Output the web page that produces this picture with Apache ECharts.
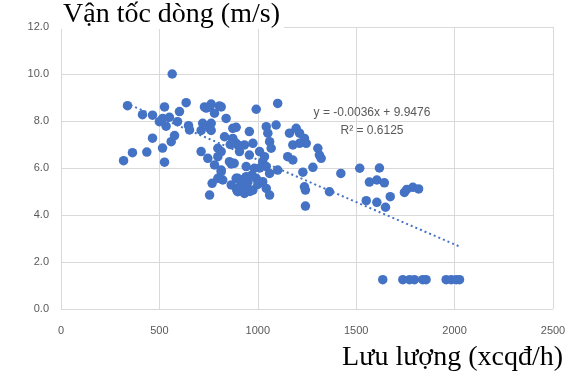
<!DOCTYPE html>
<html>
<head>
<meta charset="utf-8">
<script src="https://cdn.jsdelivr.net/npm/echarts@6/dist/echarts.min.js"></script>
<style>
  html, body { margin: 0; padding: 0; background: #fff; }
</style>
</head>
<body>
<div id="main" style="width: 578px; height: 374px;"></div>
<script>
// lưu lượng (xcqđ/h)
const flow = [
  318, 363, 338, 414, 436, 465, 465, 500, 517, 516, 526, 526, 534, 551, 560, 565, 577, 592, 602, 636,
  648, 653, 712, 712, 720, 729, 738, 746, 755, 755, 763, 763, 763, 768, 755, 780, 780, 797, 797, 797,
  805, 814, 814, 814, 814, 822, 831, 839, 856, 865, 865, 873, 873, 873, 890, 890, 890, 893, 898, 898,
  898, 907, 907, 932, 932, 941, 941, 941, 957, 957, 975, 975, 983, 992, 992, 1009, 1025, 1025, 1034, 1043,
  1043, 1043, 1051, 1060, 1060, 1060, 1068, 1093, 1101, 1101, 1152, 1161, 1178, 1178, 1195, 1212, 1212, 1229, 1237, 1237,
  1242, 1242, 1246, 1280, 1305, 1313, 1322, 1364, 1422, 1518, 1567, 1605, 1618, 1643, 1551, 1605, 1649, 1673, 1745, 1757,
  1788, 1817, 920, 950, 960, 1000, 970, 1010, 880, 860,
  1635, 1737, 1771, 1796, 1838, 1855, 1957, 1983, 2008, 2025
];
// vận tốc dòng (m/s)
const speed = [
  6.31, 6.65, 8.65, 8.27, 6.68, 7.27, 8.25, 7.97, 8.11, 6.85, 6.25, 8.6, 7.78, 8.16, 7.12, 10.0, 7.38, 7.97, 8.4, 8.78,
  7.8, 7.62, 6.7, 7.6, 7.9, 8.6, 8.55, 6.41, 8.6, 7.7, 8.72, 7.9, 7.6, 5.35, 4.85, 8.33, 6.13, 6.84, 6.48, 5.56,
  8.64, 8.6, 5.84, 6.7, 5.91, 5.49, 7.33, 8.11, 6.27, 6.17, 5.28, 7.69, 7.26, 7.19, 7.73, 7.05, 5.56, 5.06, 6.98, 5.56,
  4.99, 6.7, 5.2, 6.98, 4.92, 6.06, 5.63, 5.2, 7.55, 6.55, 7.05, 5.06, 5.99, 8.5, 5.56, 6.7, 6.27, 5.42, 6.48, 7.76,
  6.06, 5.13, 7.48, 7.12, 5.77, 4.85, 6.84, 7.83, 8.75, 5.91, 6.48, 7.48, 6.98, 6.34, 7.69, 7.05, 7.48, 5.82, 7.26, 5.2,
  5.06, 4.38, 7.05, 6.03, 6.84, 6.55, 6.41, 4.99, 5.77, 5.99, 5.4, 5.49, 6.0, 5.37, 4.61, 4.54, 4.33, 4.78, 4.96, 5.09,
  5.18, 5.11, 5.5, 5.4, 5.0, 5.3, 5.7, 6.0, 6.2, 7.0,
  1.25, 1.25, 1.25, 1.25, 1.25, 1.25, 1.25, 1.25, 1.25, 1.25
];
// đường xu hướng (đầu, cuối)
const trendX = [330, 2025];
const trendY = [8.76, 2.66];
const eqLines = ['y = -0.0036x + 9.9476', 'R² = 0.6125'];

const points = flow.map((x, i) => [x, speed[i]]);
const trend = trendX.map((x, i) => [x, trendY[i]]);

const myChart = echarts.init(document.getElementById('main'));
const serifTitle = { fontFamily: 'Liberation Serif', fontWeight: 'normal', fontSize: 28, color: '#000' };
const option = {
  animation: false,
  title: [
    {
      text: 'Vận tốc dòng (m/s)',
      left: 59,
      top: -1,
      padding: [2, 4, 0, 4],
      backgroundColor: '#fff',
      textStyle: serifTitle
    },
    {
      text: 'Lưu lượng (xcqđ/h)',
      right: 10,
      top: 339,
      textStyle: serifTitle
    }
  ],
  grid: { left: 61, right: 25, top: 27, bottom: 65 },
  xAxis: {
    type: 'value',
    min: 0, max: 2500, interval: 500,
    axisLine: { show: false },
    axisTick: { show: false },
    splitLine: { lineStyle: { color: '#d9d9d9', width: 1 } },
    axisLabel: { color: '#595959', fontSize: 11, margin: 16, fontFamily: 'Liberation Sans',
      formatter: (v) => String(v) }
  },
  yAxis: {
    type: 'value',
    min: 0, max: 12, interval: 2,
    axisLine: { show: false },
    axisTick: { show: false },
    splitLine: { lineStyle: { color: '#d9d9d9', width: 1 } },
    axisLabel: { color: '#595959', fontSize: 11, margin: 12, fontFamily: 'Liberation Sans',
      formatter: (v) => v.toFixed(1) }
  },
  // phương trình hồi quy
  graphic: eqLines.map((t, i) => ({
    type: 'text', x: 372, y: 113 + i * 18, z: 10,
    style: { text: t, fill: '#595959', font: '12px "Liberation Sans"', align: 'center', verticalAlign: 'middle' }
  })),
  series: [
    {
      type: 'scatter',
      data: points,
      symbolSize: 9.5,
      itemStyle: { color: '#4472c4', opacity: 1 },
      z: 3
    },
    {
      type: 'line',
      data: trend,
      showSymbol: false,
      symbol: 'none',
      lineStyle: { color: '#4472c4', width: 2, type: [2, 3] },
      z: 2
    }
  ]
};
myChart.setOption(option);
</script>
</body>
</html>
